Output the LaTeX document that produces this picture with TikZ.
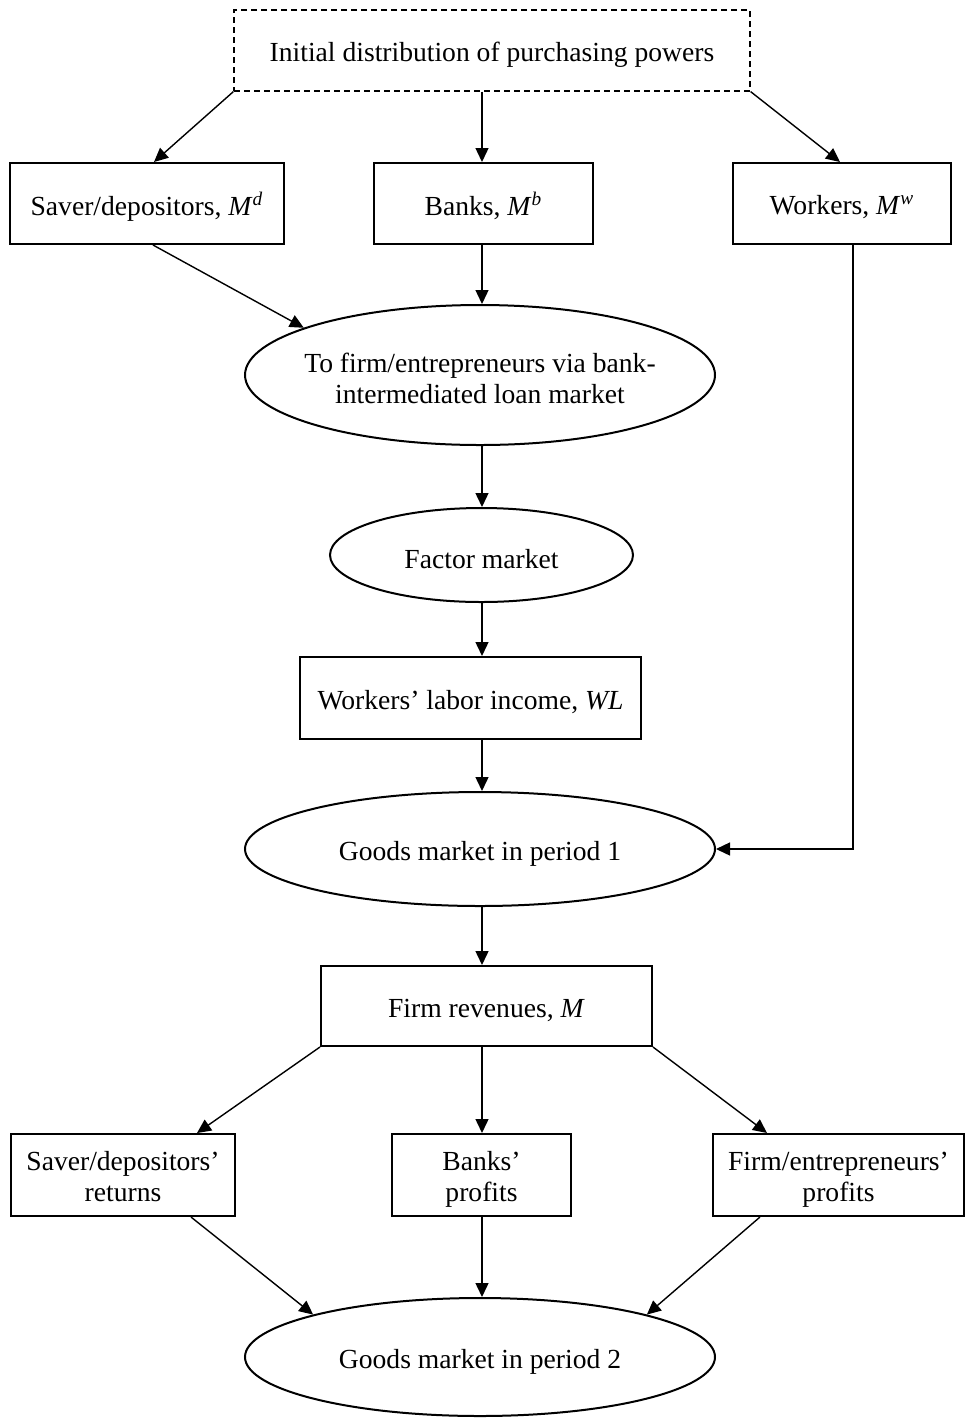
\documentclass[tikz,border=0pt]{standalone}
\usepackage{fontspec}
\setmainfont{Liberation Serif}
\usetikzlibrary{arrows.meta,shapes.geometric,calc}
\newcommand{\dntext}[1]{\raisebox{-2.5pt}[\height][\depth]{\begin{tabular}{@{}c@{}}#1\end{tabular}}}
\begin{document}
\begin{tikzpicture}[x=0.5pt,y=-0.5pt,
  font=\fontsize{13.8}{15.5}\selectfont,
  box/.style={draw,line width=1pt,rectangle,inner sep=0pt},
  oval/.style={draw,line width=1pt,ellipse,inner sep=0pt},
  arr/.style={line width=0.7pt,-{Triangle[length=7pt,width=6.5pt]}}]
\useasboundingbox (0,0) rectangle (966,1420);
\node[box,dash pattern=on 3pt off 2pt,line width=0.6pt,minimum width=258pt,minimum height=40.5pt] (init) at (492,50.5) {\dntext{Initial distribution of purchasing powers}};
\node[box,minimum width=136.75pt,minimum height=40.5pt] (saver) at (147,203.5) {\dntext{Saver/depositors, \textit{M}\textsuperscript{\textit{d}}}};
\node[box,minimum width=109.5pt,minimum height=40.5pt] (banks) at (483.5,203.5) {\dntext{Banks, \textit{M}\textsuperscript{\textit{b}}}};
\node[box,minimum width=109pt,minimum height=40.5pt] (workers) at (842,203.5) {\dntext{Workers, \textit{M}\textsuperscript{\textit{w}}}};
\node[oval,minimum width=235pt,minimum height=70pt,label={[yshift=-1pt]center:{\dntext{To firm/entrepreneurs via bank-\\intermediated loan market}}}] (loan) at (480,375) {};
\node[oval,minimum width=151.5pt,minimum height=47pt,label={[yshift=-1pt]center:{\dntext{Factor market}}}] (factor) at (481.5,555) {};
\node[box,minimum width=170.5pt,minimum height=41pt] (wl) at (470.5,698) {\dntext{Workers’ labor income, \textit{WL}}};
\node[oval,minimum width=235pt,minimum height=57pt,label={center:{\dntext{Goods market in period 1}}}] (goods1) at (480,849) {};
\node[box,minimum width=165.5pt,minimum height=40pt] (rev) at (486.5,1006) {\dntext{Firm revenues, \textit{M}}};
\node[box,minimum width=112.25pt,minimum height=41pt] (ret) at (123,1175) {\dntext{Saver/depositors’\\returns}};
\node[box,minimum width=89.5pt,minimum height=41pt] (bprof) at (481.5,1175) {\dntext{Banks’\\profits}};
\node[box,minimum width=125.5pt,minimum height=41pt] (fprof) at (838.5,1175) {\dntext{Firm/entrepreneurs’\\profits}};
\node[oval,minimum width=235pt,minimum height=59pt,label={center:{\dntext{Goods market in period 2}}}] (goods2) at (480,1357) {};
\coordinate (ax) at (482,0);
% top fan-out
\draw[arr] (init.south west) -- ([xshift=3.5pt]saver.north);
\draw[arr] (init.south -| ax) -- (banks.north -| ax);
\draw[arr] (init.south east) -- ([xshift=-1pt]workers.north);
% into loan market
\draw[arr] ([xshift=3pt]saver.south) -- (loan.165);
\draw[arr] (banks.south -| ax) -- (loan.north -| ax);
\draw[arr] ([xshift=5.5pt]workers.south) |- (goods1.east);
% main column
\draw[arr] (loan.south -| ax) -- (factor.north -| ax);
\draw[arr] (factor.south -| ax) -- (wl.north -| ax);
\draw[arr] (wl.south -| ax) -- (goods1.north -| ax);
\draw[arr] (goods1.south -| ax) -- (rev.north -| ax);
% fan-out from revenues
\draw[arr] (rev.south west) -- ([xshift=37pt]ret.north);
\draw[arr] (rev.south -| ax) -- (bprof.north -| ax);
\draw[arr] (rev.south east) -- ([xshift=-35.75pt]fprof.north);
% into period 2
\draw[arr] ([xshift=34pt]ret.south) -- (goods2.north west);
\draw[arr] (bprof.south -| ax) -- (goods2.north -| ax);
\draw[arr] ([xshift=-39.25pt]fprof.south) -- (goods2.north east);
\end{tikzpicture}
\end{document}
